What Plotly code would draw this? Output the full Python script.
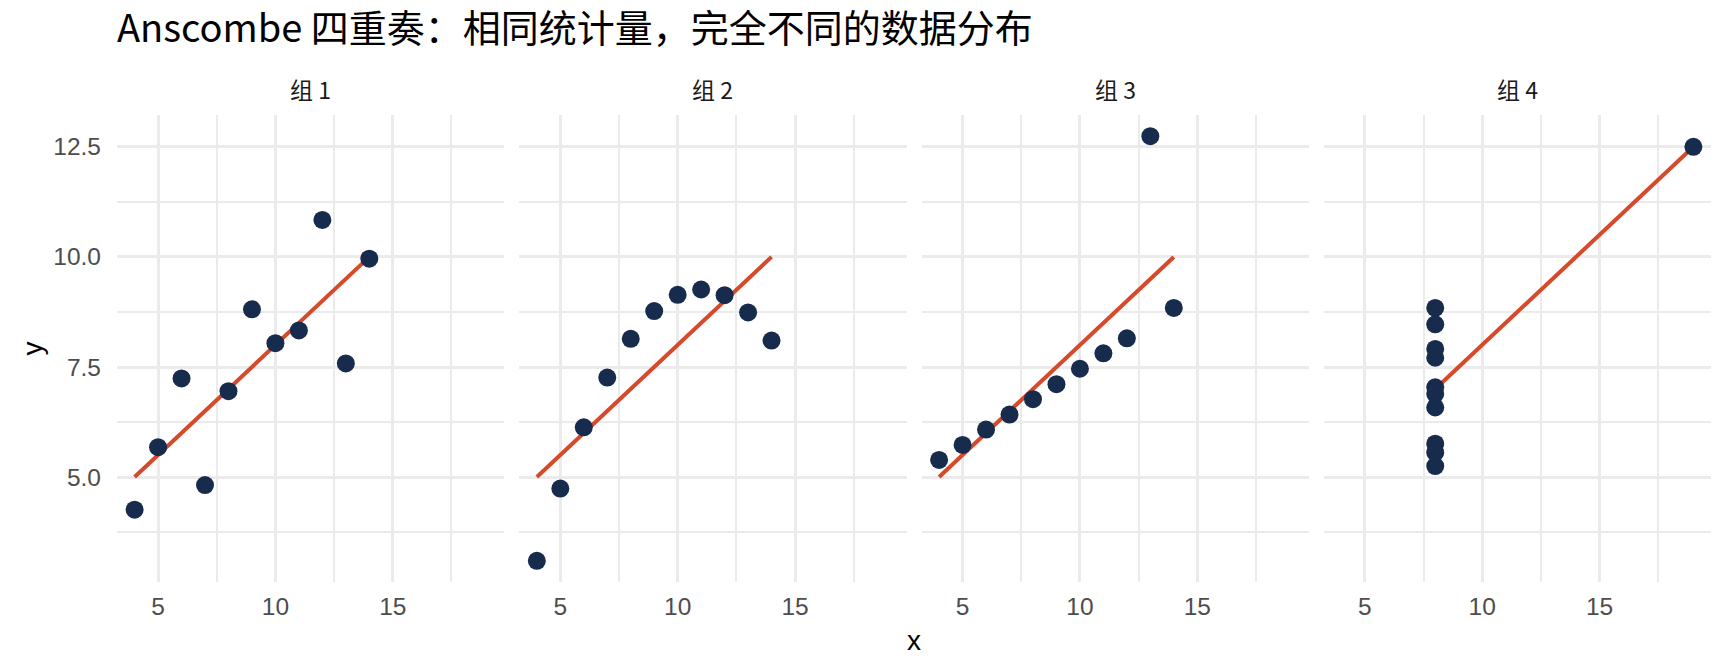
import numpy as np
import plotly.graph_objects as go

# ---- data (Anscombe's quartet) ----
groups = ["组 1", "组 2", "组 3", "组 4"]
x1 = [10, 8, 13, 9, 11, 14, 6, 4, 12, 7, 5]
y1 = [8.04, 6.95, 7.58, 8.81, 8.33, 9.96, 7.24, 4.26, 10.84, 4.82, 5.68]
x2 = [10, 8, 13, 9, 11, 14, 6, 4, 12, 7, 5]
y2 = [9.14, 8.14, 8.74, 8.77, 9.26, 8.10, 6.13, 3.10, 9.13, 7.26, 4.74]
x3 = [10, 8, 13, 9, 11, 14, 6, 4, 12, 7, 5]
y3 = [7.46, 6.77, 12.74, 7.11, 7.81, 8.84, 6.08, 5.39, 8.15, 6.42, 5.73]
x4 = [8, 8, 8, 8, 8, 8, 8, 19, 8, 8, 8]
y4 = [6.58, 5.76, 7.71, 8.84, 8.47, 7.04, 5.25, 12.50, 5.56, 7.91, 6.89]
x_ticks = [5, 10, 15]
y_ticks = [5.0, 7.5, 10.0, 12.5]
title_text = "Anscombe 四重奏：相同统计量，完全不同的数据分布"

xs = [x1, x2, x3, x4]
ys = [y1, y2, y3, y4]

W, H = 1728, 672
ML, MR, MT, MB = 117, 17, 115, 90
GAP = 15
plot_w = W - ML - MR
panel_w = (plot_w - 3 * GAP) / 4

POINT = "#172B4D"
LINE = "#D6492A"
GRID = "#EBEBEB"
TICK_FONT = dict(family="Liberation Sans, Arial, sans-serif", size=24.5, color="#4D4D4D")
CJK = "Noto Sans CJK SC"

# shared ranges like ggplot's 5% expansion
allx = np.concatenate([np.array(a, float) for a in xs])
ally = np.concatenate([np.array(a, float) for a in ys])
xr = [allx.min() - 0.05 * (allx.max() - allx.min()), allx.max() + 0.05 * (allx.max() - allx.min())]
yr = [ally.min() - 0.05 * (ally.max() - ally.min()), ally.max() + 0.05 * (ally.max() - ally.min())]

fig = go.Figure()
layout = dict(
    width=W, height=H,
    margin=dict(l=ML, r=MR, t=MT, b=MB),
    paper_bgcolor="white", plot_bgcolor="white",
    showlegend=False,
)

annotations = []
for i in range(4):
    xa = "x" if i == 0 else f"x{i+1}"
    ya = "y" if i == 0 else f"y{i+1}"
    x0 = (i * (panel_w + GAP)) / plot_w
    x1d = x0 + panel_w / plot_w
    layout["xaxis" if i == 0 else f"xaxis{i+1}"] = dict(
        domain=[x0, x1d], range=xr, anchor=ya,
        tickvals=x_ticks, ticktext=[str(v) for v in x_ticks],
        showgrid=True, gridcolor=GRID, gridwidth=2.7,
        minor=dict(dtick=2.5, tick0=0, showgrid=True, gridcolor=GRID, gridwidth=1.5),
        zeroline=False, showline=False, ticks="", tickfont=TICK_FONT,
        ticklabelstandoff=7,
    )
    layout["yaxis" if i == 0 else f"yaxis{i+1}"] = dict(
        domain=[0, 1], range=yr, anchor=xa,
        matches=None if i == 0 else "y",
        tickvals=y_ticks, ticktext=[f"{v:.1f}" for v in y_ticks],
        showticklabels=(i == 0),
        showgrid=True, gridcolor=GRID, gridwidth=2.7,
        minor=dict(dtick=1.25, tick0=0, showgrid=True, gridcolor=GRID, gridwidth=1.5),
        zeroline=False, showline=False, ticks="", tickfont=TICK_FONT,
        ticklabelstandoff=15,
    )
    # fitted line
    xv = np.array(xs[i], float)
    yv = np.array(ys[i], float)
    b, a = np.polyfit(xv, yv, 1)
    lx = np.array([xv.min(), xv.max()])
    fig.add_trace(go.Scatter(x=lx, y=a + b * lx, mode="lines", xaxis=xa, yaxis=ya,
                             line=dict(color=LINE, width=4), hoverinfo="skip"))
    fig.add_trace(go.Scatter(x=xs[i], y=ys[i], mode="markers", xaxis=xa, yaxis=ya,
                             marker=dict(color=POINT, size=18, line=dict(width=0))))
    annotations.append(dict(
        text=groups[i], x=(x0 + x1d) / 2, y=1, xref="paper", yref="paper",
        xanchor="center", yanchor="middle", yshift=26, showarrow=False,
        font=dict(family=CJK, size=23, color="#1A1A1A"),
    ))

# axis titles
annotations.append(dict(text="x", x=0.5, y=0, xref="paper", yref="paper",
                        xanchor="center", yanchor="middle", yshift=-58, showarrow=False,
                        font=dict(family="Liberation Sans, Arial, sans-serif", size=28, color="black")))
annotations.append(dict(text="y", x=0, y=0.5, xref="paper", yref="paper",
                        xanchor="center", yanchor="middle", xshift=-85, showarrow=False,
                        textangle=-90,
                        font=dict(family="Liberation Sans, Arial, sans-serif", size=28, color="black")))

layout["annotations"] = annotations
layout["title"] = dict(text=title_text, x=ML / W, xanchor="left", xref="container",
                       y=1 - 29 / H, yanchor="middle", yref="container",
                       font=dict(family=CJK, size=38, color="black"))
fig.update_layout(**layout)
fig.write_html("out.html", config={"displayModeBar": False},
               post_script="document.body.style.margin='0';document.body.style.padding='0';")
